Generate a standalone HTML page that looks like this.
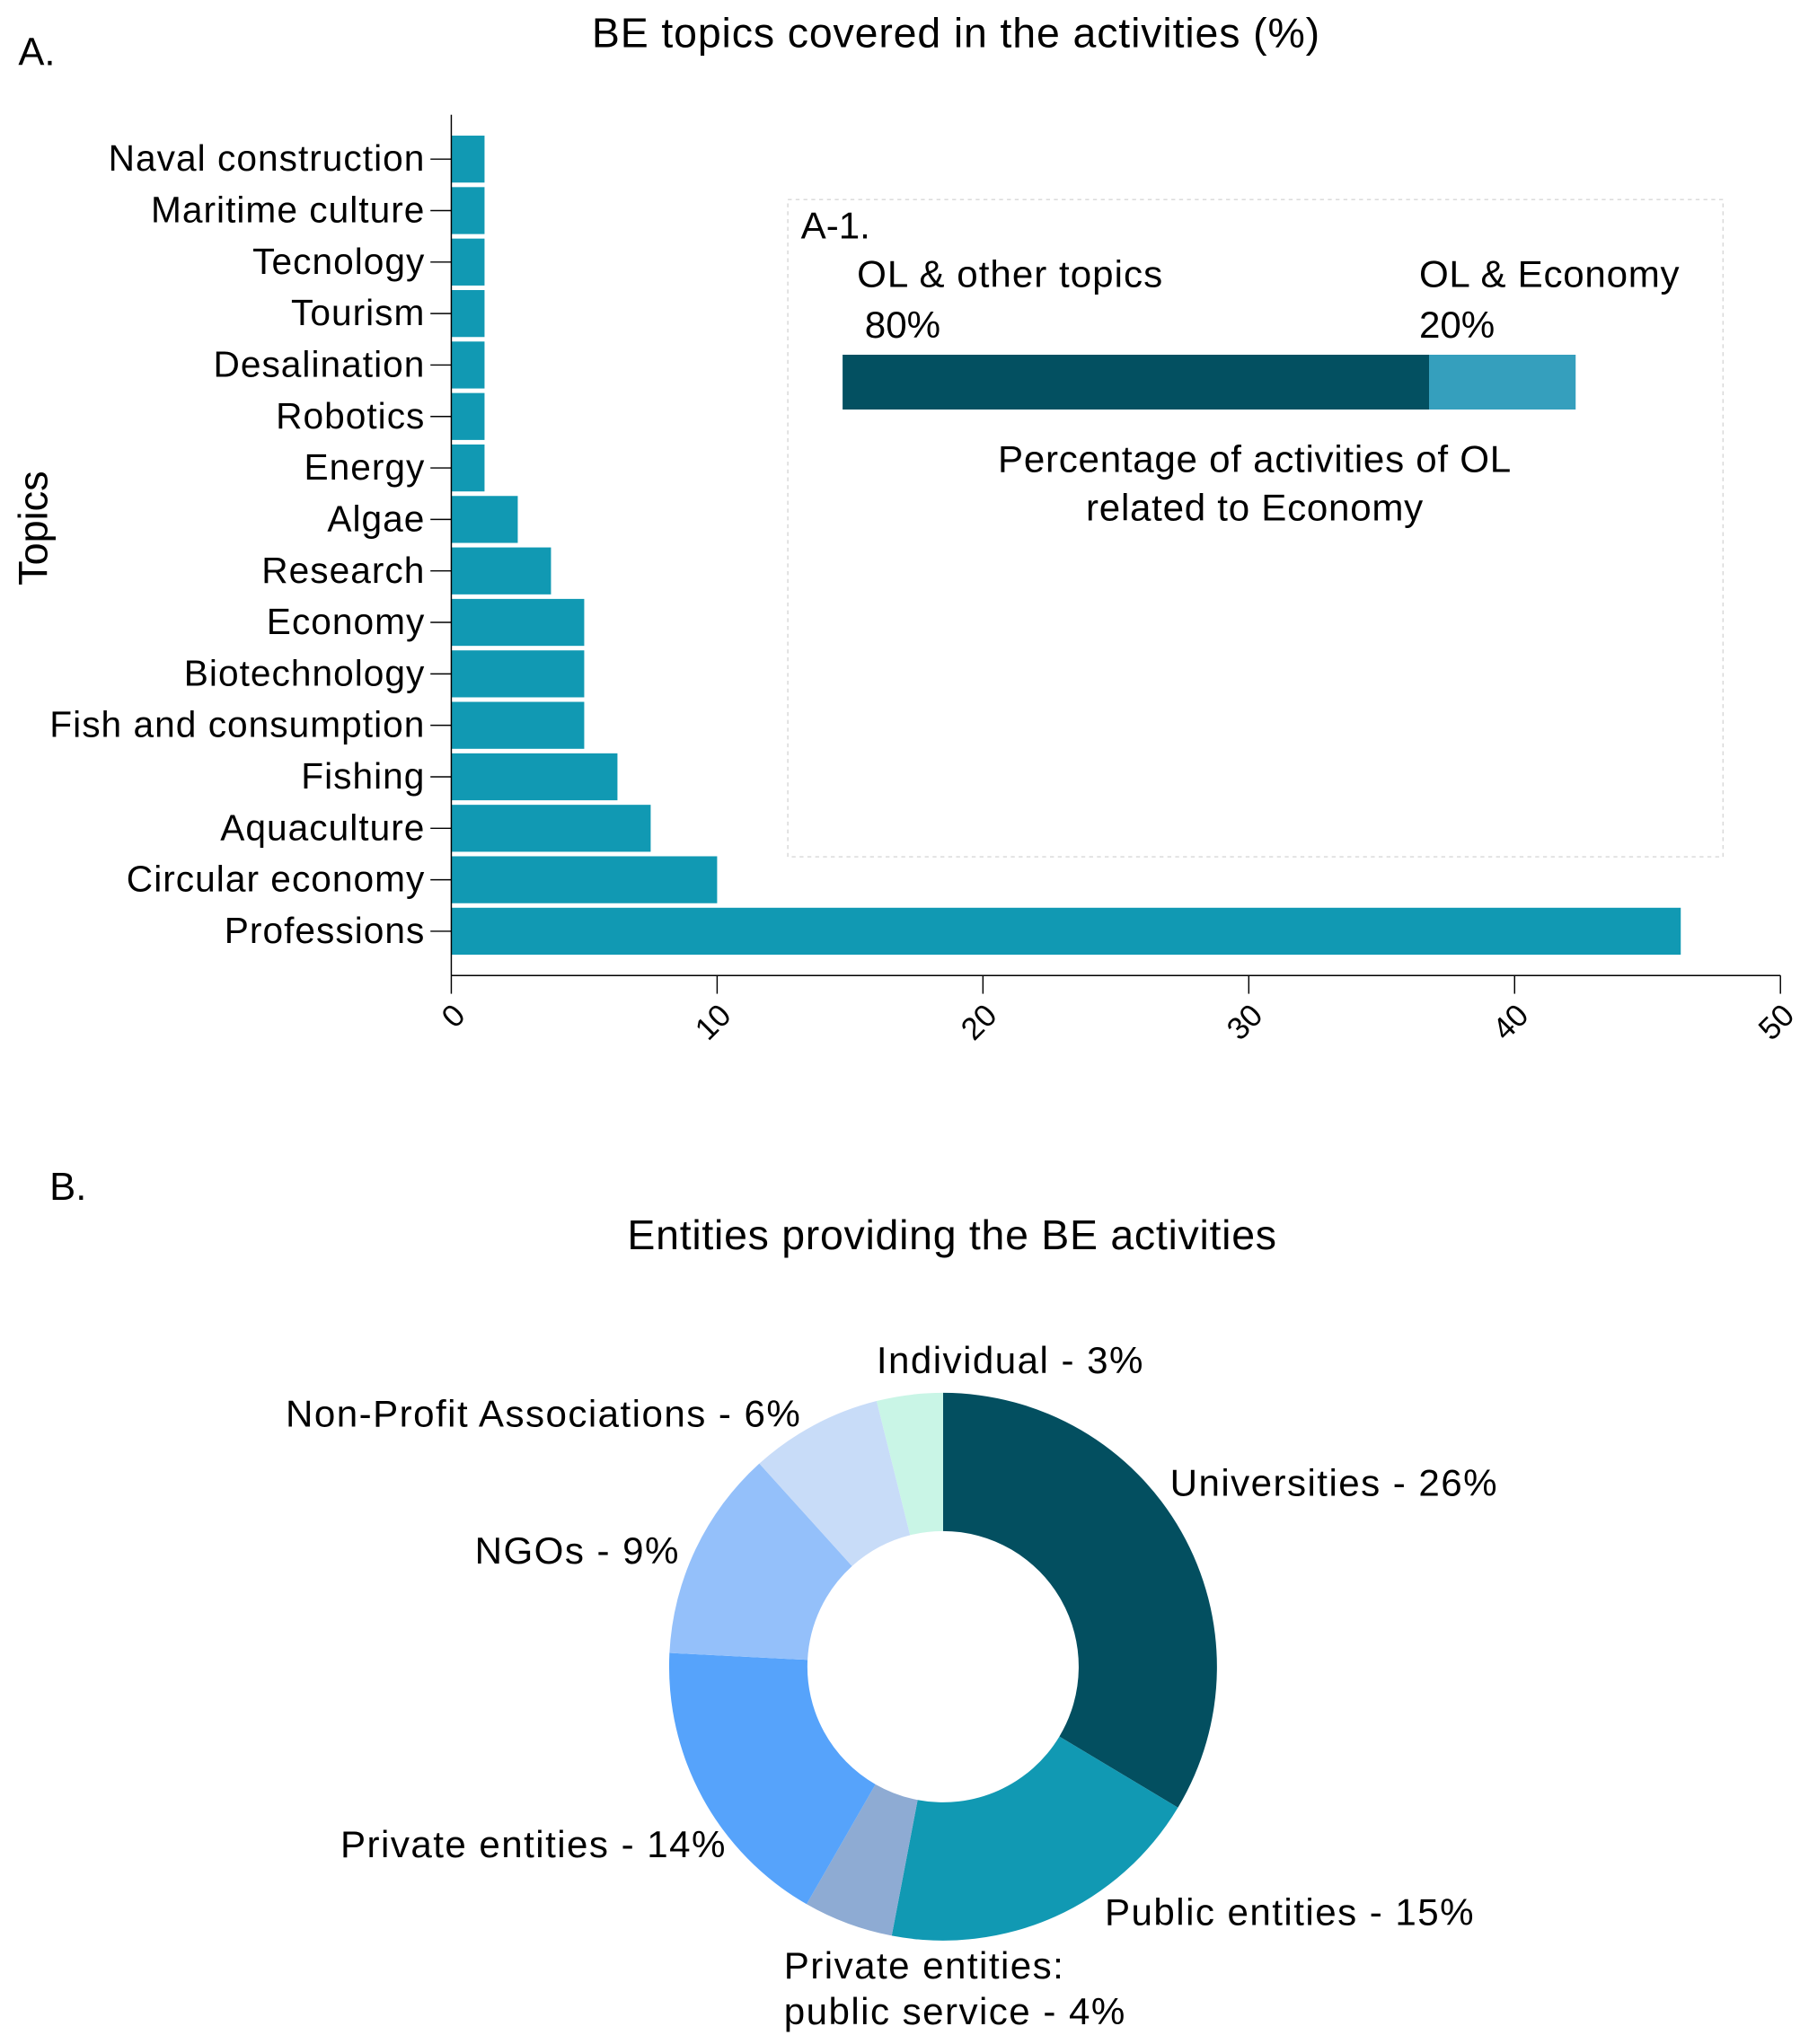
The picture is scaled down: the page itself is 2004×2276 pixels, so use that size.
<!DOCTYPE html>
<html><head><meta charset="utf-8"><style>
html,body{margin:0;padding:0;background:#fff;}
svg{display:block;font-family:"Liberation Sans",sans-serif;}
</style></head><body>
<svg id="chart" width="2004" height="2276" viewBox="0 0 1380 1567.3" xmlns="http://www.w3.org/2000/svg">
<text x="14" y="50" font-size="30">A.</text>
<text x="733" y="36" font-size="32" text-anchor="middle" letter-spacing="0.6">BE topics covered in the activities (%)</text>
<text transform="translate(36,405) rotate(-90)" font-size="31" text-anchor="middle">Topics</text>
<g id="bars"></g>
<g id="xaxis"></g>
<rect x="604" y="153" width="717" height="504" fill="none" stroke="#d8d8d8" stroke-dasharray="3,3"/>
<text x="614" y="183" font-size="29">A-1.</text>
<text x="657" y="220" font-size="29" letter-spacing="0.7">OL &amp; other topics</text>
<text x="663" y="259" font-size="29">80%</text>
<text x="1088" y="220" font-size="29" letter-spacing="0.5">OL &amp; Economy</text>
<text x="1088" y="259" font-size="29">20%</text>
<g id="stack"></g>
<text x="962" y="362" font-size="29" letter-spacing="0.5" text-anchor="middle">Percentage of activities of OL</text>
<text x="962" y="399" font-size="29" letter-spacing="0.5" text-anchor="middle">related to Economy</text>
<text x="38" y="920" font-size="30">B.</text>
<text x="730" y="958" font-size="32" letter-spacing="0.5" text-anchor="middle">Entities providing the BE activities</text>
<g id="donut"></g>
<g font-size="29" letter-spacing="1">
<text x="672" y="1053">Individual - 3%</text>
<text x="219" y="1094">Non-Profit Associations - 6%</text>
<text x="897" y="1147">Universities - 26%</text>
<text x="364" y="1199">NGOs - 9%</text>
<text x="261" y="1424">Private entities - 14%</text>
<text x="847" y="1476">Public entities - 15%</text>
<text x="601" y="1517">Private entities:</text>
<text x="601" y="1552">public service - 4%</text>
</g>
</svg>
<script>
const topics = ["Naval construction","Maritime culture","Tecnology","Tourism","Desalination","Robotics","Energy","Algae","Research","Economy","Biotechnology","Fish and consumption","Fishing","Aquaculture","Circular economy","Professions"];
const topicValues = [1.25,1.25,1.25,1.25,1.25,1.25,1.25,2.5,3.75,5,5,5,6.25,7.5,10,46.25];
const xTicks = [0,10,20,30,40,50];
const stackValues = [80,20];
const entities = ["Universities","Public entities","Private entities: public service","Private entities","NGOs","Non-Profit Associations","Individual"];
const entityShares = [33.6,19.4,5.3,17.5,12.5,7.8,3.9];

const NS="http://www.w3.org/2000/svg";
function mk(t,a,p){const e=document.createElementNS(NS,t);for(const k in a)e.setAttribute(k,a[k]);p.appendChild(e);return e;}
const X0=346,X1=1365,YT=122,YS=39.47,BH=36;
const xs=v=>X0+(v/50)*(X1-X0);
const ys=i=>YT+i*YS;
const bars=document.getElementById('bars');
topics.forEach((t,i)=>{
  const r=mk('rect',{x:X0,y:ys(i)-BH/2,width:xs(topicValues[i])-X0,height:BH,fill:'#1199b3'},bars);
  
  
  const tk=mk('line',{x1:X0-16,x2:X0,y1:ys(i),y2:ys(i),stroke:'#000','stroke-width':1},bars);
  
  
  const l=mk('text',{x:X0-20,y:ys(i)+9,'font-size':28,'letter-spacing':0.7,'text-anchor':'end'},bars);
  l.textContent=t;
  
  
});
const xa=document.getElementById('xaxis');
mk('line',{x1:X0,x2:X0,y1:88,y2:748,stroke:'#000','stroke-width':1},xa);
mk('line',{x1:X0,x2:X1,y1:748,y2:748,stroke:'#000','stroke-width':1},xa);
xTicks.forEach(v=>{
  const tk=mk('line',{x1:xs(v),x2:xs(v),y1:748,y2:762,stroke:'#000'},xa);
  
  
  const l=mk('text',{transform:`translate(${xs(v)+12},${780}) rotate(-45)`,'font-size':24,'text-anchor':'end'},xa);
  l.textContent=v;
  
  
});
const st=document.getElementById('stack');
const SX0=646,SW=562;let acc=0;const sc=['#035061','#359fbd'];
stackValues.forEach((v,i)=>{
  const r=mk('rect',{x:SX0+acc/100*SW,y:272,width:v/100*SW,height:42,fill:sc[i]},st);
  
  
  acc+=v;
});
const dn=document.getElementById('donut');
const cx=723,cy=1278,R=210,r0=104;
const cols=['#034f60','#1199b3','#8eabd3','#56a3fb','#94c0fa','#c8dcf8','#c9f5e6'];
const tot=entityShares.reduce((a,b)=>a+b,0);let a0=0;
const pt=(a,rr)=>[cx+rr*Math.sin(a),cy-rr*Math.cos(a)];
entityShares.forEach((v,i)=>{
  const a1=a0+v/tot*2*Math.PI;const lg=(a1-a0)>Math.PI?1:0;
  const [x1,y1]=pt(a0,R),[x2,y2]=pt(a1,R),[x3,y3]=pt(a1,r0),[x4,y4]=pt(a0,r0);
  const p=mk('path',{d:`M${x1},${y1}A${R},${R} 0 ${lg} 1 ${x2},${y2}L${x3},${y3}A${r0},${r0} 0 ${lg} 0 ${x4},${y4}Z`,fill:cols[i]},dn);
  
  
  a0=a1;
});
</script>
</body></html>
